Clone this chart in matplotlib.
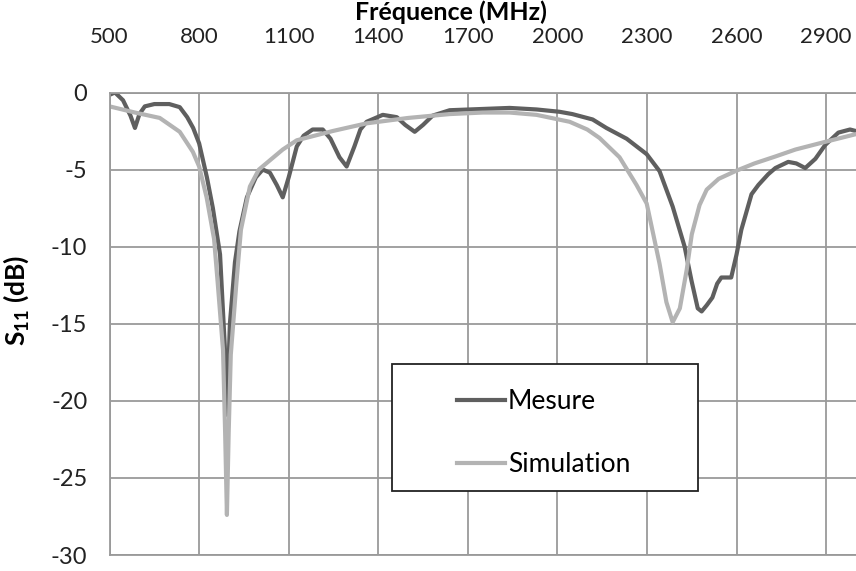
import matplotlib
matplotlib.use("Agg")
import matplotlib.pyplot as plt
from matplotlib.patches import Rectangle

plt.rcParams['font.family'] = ['Lato', 'DejaVu Sans']
plt.rcParams['axes.unicode_minus'] = False
plt.rcParams['mathtext.fontset'] = 'custom'
plt.rcParams['mathtext.rm'] = 'Lato'
plt.rcParams['mathtext.bf'] = 'Lato:bold'

mes_f = [500, 518, 545, 570, 585, 600, 618, 650, 700, 735, 760, 780, 800, 826, 846,
         870, 886, 893, 903, 920, 935, 960, 990, 1013, 1037, 1060, 1080, 1100, 1127,
         1150, 1180, 1214, 1240, 1270, 1294, 1320, 1340, 1361, 1415, 1462, 1490, 1522,
         1550, 1582, 1639, 1706, 1840, 1930, 2007, 2050, 2118, 2164, 2232, 2299, 2342,
         2386, 2426, 2449, 2470, 2483, 2500, 2519, 2535, 2549, 2582, 2600, 2616, 2650,
         2673, 2706, 2730, 2773, 2800, 2830, 2864, 2897, 2941, 2980, 3000]
mes_db = [-0.15, 0.0, -0.5, -1.5, -2.3, -1.4, -0.9, -0.75, -0.75, -0.95, -1.6, -2.3,
          -3.3, -5.5, -7.5, -10.5, -16.5, -20.9, -15.0, -11.0, -9.0, -6.8, -5.5, -5.0,
          -5.2, -6.0, -6.8, -5.5, -3.5, -2.8, -2.4, -2.4, -3.0, -4.2, -4.8, -3.5, -2.4,
          -1.9, -1.45, -1.6, -2.1, -2.55, -2.1, -1.5, -1.15, -1.1, -1.0, -1.1, -1.25,
          -1.4, -1.75, -2.3, -3.0, -4.0, -5.1, -7.4, -10.0, -12.2, -14.0, -14.2, -13.8,
          -13.3, -12.4, -12.0, -12.0, -10.5, -8.9, -6.6, -6.0, -5.3, -4.9, -4.5, -4.6,
          -4.9, -4.3, -3.4, -2.6, -2.4, -2.5]

# simulated S11
sim_f = [500, 585, 668, 735, 779, 800, 825, 850, 862, 880, 887, 893, 899, 906, 925,
         940, 970, 1000, 1080, 1127, 1247, 1361, 1500, 1639, 1750, 1840, 1930, 2041,
         2100, 2141, 2208, 2265, 2299, 2342, 2365, 2386, 2410, 2433, 2450, 2476, 2500,
         2540, 2596, 2660, 2730, 2797, 2897, 3000]
sim_db = [-0.9, -1.3, -1.65, -2.55, -3.85, -4.8, -6.8, -9.5, -12.3, -16.7, -22.0, -27.4,
          -22.0, -17.0, -12.3, -8.9, -6.1, -5.0, -3.7, -3.1, -2.5, -2.0, -1.65, -1.4,
          -1.3, -1.3, -1.45, -1.9, -2.4, -2.95, -4.2, -6.0, -7.2, -11.1, -13.6, -14.9,
          -14.0, -11.5, -9.2, -7.3, -6.3, -5.6, -5.1, -4.6, -4.15, -3.7, -3.2, -2.7]

xticks = [500, 800, 1100, 1400, 1700, 2000, 2300, 2600, 2900]
yticks = [0, -5, -10, -15, -20, -25, -30]

fig = plt.figure(figsize=(8.56, 5.71), dpi=100)
ax = fig.add_axes([0.128, 0.028, 0.872, 0.81])

ax.plot(mes_f, mes_db, color='#5f5f5f', lw=3.0, label='Mesure', solid_joinstyle='round')
ax.plot(sim_f, sim_db, color='#b3b3b3', lw=3.0, label='Simulation', solid_joinstyle='round')

ax.set_xlim(500, 3000)
ax.set_ylim(-30, 0)
ax.set_xticks(xticks)
ax.set_yticks(yticks)
ax.set_yticklabels([str(v) for v in yticks])
ax.xaxis.tick_top()
ax.xaxis.set_label_position('top')
ax.tick_params(length=0, labelsize=16, colors='#222222')
ax.tick_params(axis='x', pad=33)
ax.tick_params(axis='y', pad=16, labelsize=17)
ax.grid(True, color='#9a9a9a', lw=1.3)
ax.set_axisbelow(True)
for side in ['top', 'left', 'right', 'bottom']:
    ax.spines[side].set_color('#9a9a9a')
    ax.spines[side].set_linewidth(1.3)
ax.spines['right'].set_visible(False)

ax.set_xlabel('Fréquence (MHz)', fontsize=18, fontweight='bold')
ax.xaxis.set_label_coords(0.458, 1.157)
ax.set_ylabel(r'S$_{\mathbf{11}}$ (dB)', fontsize=19, fontweight='bold')
ax.yaxis.set_label_coords(-0.105, 0.55)

box = Rectangle((0.379, 0.138), 0.409, 0.275, transform=ax.transAxes,
                facecolor='white', edgecolor='#222222', lw=1.3, zorder=4)
ax.add_patch(box)
leg = ax.legend(loc='upper left', bbox_to_anchor=(0.465, 0.358), frameon=False,
                fontsize=19, handlelength=1.85, handletextpad=0.1, labelspacing=1.42,
                borderpad=0, borderaxespad=0)
leg.set_zorder(5)

fig.savefig('out.png', dpi=100)
